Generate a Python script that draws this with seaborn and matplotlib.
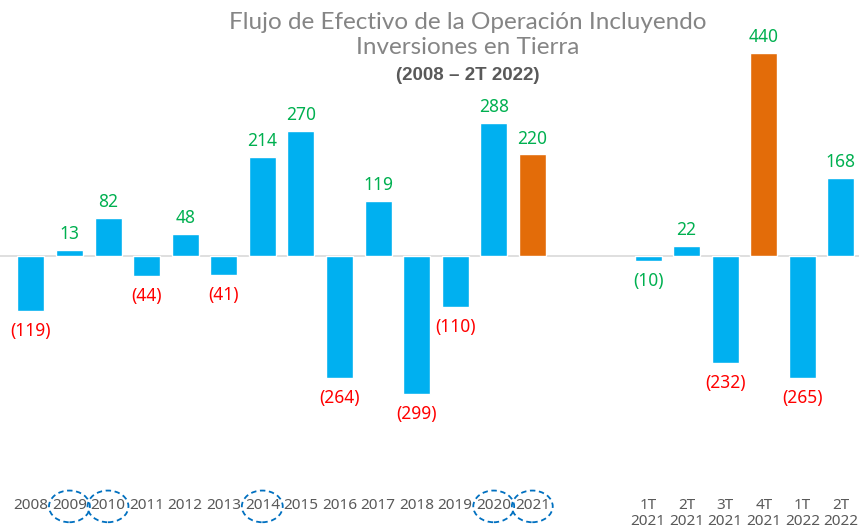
import pandas as pd
import matplotlib.pyplot as plt
import seaborn as sns
from matplotlib.patches import Ellipse

# data
years = ['2008', '2009', '2010', '2011', '2012', '2013', '2014', '2015', '2016',
         '2017', '2018', '2019', '2020', '2021']
year_vals = [-119, 13, 82, -44, 48, -41, 214, 270, -264, 119, -299, -110, 288, 220]
quarters = ['1T\n2021', '2T\n2021', '3T\n2021', '4T\n2021', '1T\n2022', '2T\n2022']
quarter_vals = [-10, 22, -232, 440, -265, 168]
highlight = ['2021', '4T\n2021']
circled = ['2009', '2010', '2014', '2020', '2021']

labels = years + quarters
values = year_vals + quarter_vals
pos = list(range(len(years))) + [len(years) + 2 + i for i in range(len(quarters))]

df = pd.DataFrame({'pos': pos, 'label': labels, 'value': values})
df['kind'] = ['hi' if l in highlight else 'base' for l in labels]

sns.set_style('white')
plt.rcParams['font.family'] = ['Noto Sans', 'DejaVu Sans']

fig = plt.figure(figsize=(8.59, 5.31), dpi=100)
ax = fig.add_axes([0, 51 / 531, 1, 480 / 531])

sns.barplot(data=df, x='pos', y='value', hue='kind', native_scale=True,
            palette={'base': '#00B0F0', 'hi': '#E36C09'}, width=0.7,
            dodge=False, legend=False, ax=ax, saturation=1)

ax.axhline(0, color='#D9D9D9', lw=1.2, zorder=0)
ax.set_xlim(-0.8, 21.47)
ax.set_ylim(-486, 555)
sns.despine(ax=ax, left=True, bottom=True)
ax.set_yticks([])
ax.set_xticks(pos)
ax.set_xticklabels(labels, fontsize=11, color='#595959', linespacing=1.1)
ax.tick_params(axis='x', length=0, pad=13)
ax.set_xlabel('')
ax.set_ylabel('')

# data labels
for p, l, v in zip(pos, labels, values):
    txt = str(v) if v >= 0 else '(%d)' % abs(v)
    col = '#00B050' if (v >= 0 or l.startswith('1T\n2021')) else '#FF0000'
    if v >= 0:
        ax.annotate(txt, (p, v), xytext=(0, 5), textcoords='offset points',
                    ha='center', va='bottom', fontsize=12.5, color=col)
    else:
        ax.annotate(txt, (p, v), xytext=(0, -8), textcoords='offset points',
                    ha='center', va='top', fontsize=12.5, color=col)

# dashed circles around some years
for c in circled:
    p = pos[labels.index(c)]
    e = Ellipse((p, -0.055), width=1.06, height=0.066, fill=False,
                edgecolor='#0070C0', ls=(0, (3, 2)), lw=1.3,
                transform=ax.get_xaxis_transform(), clip_on=False)
    ax.add_patch(e)

# title
fig.text(0.544, 0.958, 'Flujo de Efectivo de la Operación Incluyendo',
         ha='center', va='center', fontsize=17.5, color='#858585', family='Lato')
fig.text(0.544, 0.911, 'Inversiones en Tierra', ha='center', va='center',
         fontsize=17.5, color='#858585', family='Lato')
fig.text(0.544, 0.858, '(2008 – 2T 2022)', ha='center', va='center',
         fontsize=13.5, color='#595959', fontweight='bold', family='Liberation Sans')

fig.savefig('out.png', dpi=100)
